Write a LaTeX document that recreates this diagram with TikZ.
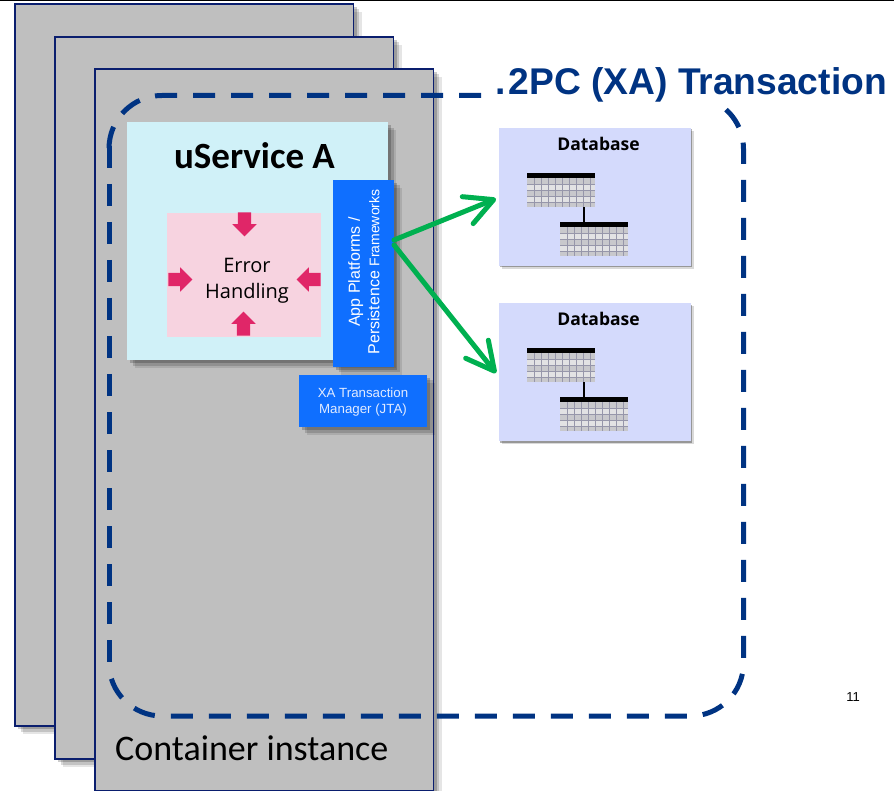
\documentclass[tikz,border=0pt]{standalone}
\usepackage{fontspec}
\usepackage{xcolor}
\usepackage{tikz}
\usetikzlibrary{positioning, calc, shadows, shapes.arrows, arrows.meta}
\setmainfont{Liberation Sans}
\newfontfamily\calibrifont{Carlito}
\newfontfamily\plexfont{Open Sans}
\definecolor{containergray}{RGB}{191, 191, 191}
\definecolor{containernavy}{RGB}{10, 30, 110}
\definecolor{dashnavy}{RGB}{0, 51, 130}
\definecolor{servicecyan}{RGB}{208, 241, 248}
\definecolor{errorpink}{RGB}{247, 211, 224}
\definecolor{errorred}{RGB}{224, 38, 104}
\definecolor{frameblue}{RGB}{15, 111, 255}
\definecolor{managertext}{RGB}{225, 235, 255}
\definecolor{dblavender}{RGB}{212, 218, 252}
\definecolor{flowgreen}{RGB}{0, 176, 80}
\definecolor{tablegray}{RGB}{200, 200, 204}
\definecolor{tablelight}{RGB}{226, 226, 228}
\definecolor{tableline}{RGB}{150, 150, 170}
\newcommand{\tablegrid}[1]{
	\begin{scope}[shift={(#1.north west)}]
		\foreach \row in {11,23} \fill[tablelight] (0,\row) rectangle (68,\row+6);
		\foreach \col in {7,14,...,63} \draw[tableline, line width=0.4pt] (\col,5) -- (\col,34);
		\foreach \row in {11,17,...,29} \draw[tableline, line width=0.4pt] (0,\row) -- (68,\row);
		\fill[black] (0,0) rectangle (68,5);
	\end{scope}
}

\begin{document}
\begin{tikzpicture}[
		x=1pt, y=-1pt,
		softshadow/.style={
			drop shadow={shadow xshift=8pt, shadow yshift=-8pt, opacity=0.1, fill=black},
			drop shadow={shadow xshift=5.5pt, shadow yshift=-5.5pt, opacity=0.15, fill=black},
			drop shadow={shadow xshift=3pt, shadow yshift=-3pt, opacity=0.2, fill=black}},
		thinshadow/.style={
			drop shadow={shadow xshift=3pt, shadow yshift=-3pt, opacity=0.15, fill=black},
			drop shadow={shadow xshift=1.5pt, shadow yshift=-1.5pt, opacity=0.3, fill=black}},
		container/.style={rectangle, anchor=north west, fill=containergray, draw=containernavy, line width=1.5pt, minimum width=338.5pt, minimum height=722pt, softshadow},
		service/.style={rectangle, anchor=north west, fill=servicecyan, minimum width=261pt, minimum height=238pt, softshadow},
		errorbox/.style={rectangle, fill=errorpink, minimum width=154pt, minimum height=124pt},
		squeeze/.style={single arrow, fill=errorred, inner xsep=0pt, inner ysep=6.5pt, minimum width=24pt, minimum height=24pt, single arrow head extend=5.5pt, single arrow head indent=0pt},
		framebox/.style={rectangle, fill=frameblue, softshadow},
		dbbox/.style={rectangle, anchor=north west, fill=dblavender, minimum width=192pt, minimum height=138pt, thinshadow},
		dbtable/.style={rectangle, anchor=north west, inner sep=0pt, minimum width=68pt, minimum height=34pt, fill=tablegray},
		dbtitle/.style={font=\plexfont\bfseries\fontsize{17.5}{21}\selectfont},
		tablelink/.style={line width=2pt, draw=black},
		dashframe/.style={draw=dashnavy, line width=5pt, dash pattern=on 22pt off 16pt, rounded corners=53pt},
		flow/.style={line width=5pt, draw=flowgreen, line cap=round, -{Straight Barb[length=28pt, width=29pt, line width=5pt, round]}}
	]

	\useasboundingbox (0,0) rectangle (894,791);
	\draw[line width=3pt] (0,0) -- (894,0);

	% stacked container instances
	\node (container1) [container] at (14.25,3.25) {};
	\node (container2) [container] at ($(container1.north west)+(40,33)$) {};
	\node (container3) [container] at ($(container2.north west)+(40,32)$) {};
	\node (containerlabel) [anchor=west, inner sep=0pt, font=\calibrifont\fontsize{36}{42}\selectfont] at (115,748) {Container instance};

	% the service
	\node (service) [service] at (127,122) {};
	\node (servicelabel) [font=\calibrifont\bfseries\fontsize{37}{44}\selectfont] at (254.5,156) {uService A};
	\node (error) [errorbox] at (244,275) {};
	\node (errorlabel) [align=center, font=\plexfont\fontsize{20}{26}\selectfont] at (247,281) {Error\\Handling};
	\node (squeezetop) [squeeze, rotate=-90] at (244.5,221) {};
	\node (squeezebottom) [squeeze, rotate=90] at (243.5,327) {};
	\node (squeezeleft) [squeeze] at (177,279.5) {};
	\node (squeezeright) [squeeze, rotate=180] at (312,279.5) {};

	\node (apps) [framebox, minimum width=61pt, minimum height=187pt] at (363.5,273.5) {};
	\node (appslabel) [rotate=90, text=white, align=center, font=\fontsize{16}{19.5}\selectfont] at (364,272) {App Platforms /\\Persistence {\fontsize{14}{19.5}\selectfont Frameworks}};
	\node (manager) [framebox, minimum width=128pt, minimum height=52pt] at (363,401) {};
	\node (managerlabel) [text=managertext, align=center, font=\fontsize{13.3}{16.5}\selectfont] at (363,402) {XA Transaction\\Manager (JTA)};

	% the databases
	\node (db1) [dbbox] at (498.5,127.5) {};
	\node (db1label) [dbtitle] at (598.5,144) {Database};
	\node (db1upper) [dbtable] at (527,173) {};
	\node (db1lower) [dbtable] at (560,222) {};
	\tablegrid{db1upper}
	\tablegrid{db1lower}
	\draw[tablelink] ([xshift=-11pt]db1upper.south east) -- ([xshift=-11pt]db1upper.south east |- db1lower.north);

	\node (db2) [dbbox, below=37pt of db1.south west, anchor=north west] {};
	\node (db2label) [dbtitle] at (598.5,319) {Database};
	\node (db2upper) [dbtable] at (527,348) {};
	\node (db2lower) [dbtable] at (560,397) {};
	\tablegrid{db2upper}
	\tablegrid{db2lower}
	\draw[tablelink] ([xshift=-11pt]db2upper.south east) -- ([xshift=-11pt]db2upper.south east |- db2lower.north);

	% the transaction
	\coordinate (forkupper) at (394,240);
	\coordinate (forklower) at (394,245);
	\draw[flow] (forkupper) -- ($(db1.west)+(-2.5,2)$);
	\draw[flow] (forklower) -- ($(db2.west)+(-2.5,1)$);

	\draw[dashframe] (481,95.5) -| (109,149);
	\draw[dashframe] (109,146) -- (109,663);
	\draw[dashframe, dash phase=22pt] (109,663) |- (743.5,716) -- (743.5,149);
	\draw[dashframe, sharp corners, dash phase=15.6pt] (743.5,149) .. controls (743.5,131.7) and (735.1,115.5) .. (720.9,105.6);
	\node (title) [anchor=base west, inner sep=0pt, text=dashnavy, font=\bfseries\fontsize{37.2}{44}\selectfont] at (495,95) {.\kern3pt 2PC (XA) Transaction};

	\node (pagenumber) [font=\fontsize{13}{15}\selectfont] at (853,697) {11};
\end{tikzpicture}
\end{document}
